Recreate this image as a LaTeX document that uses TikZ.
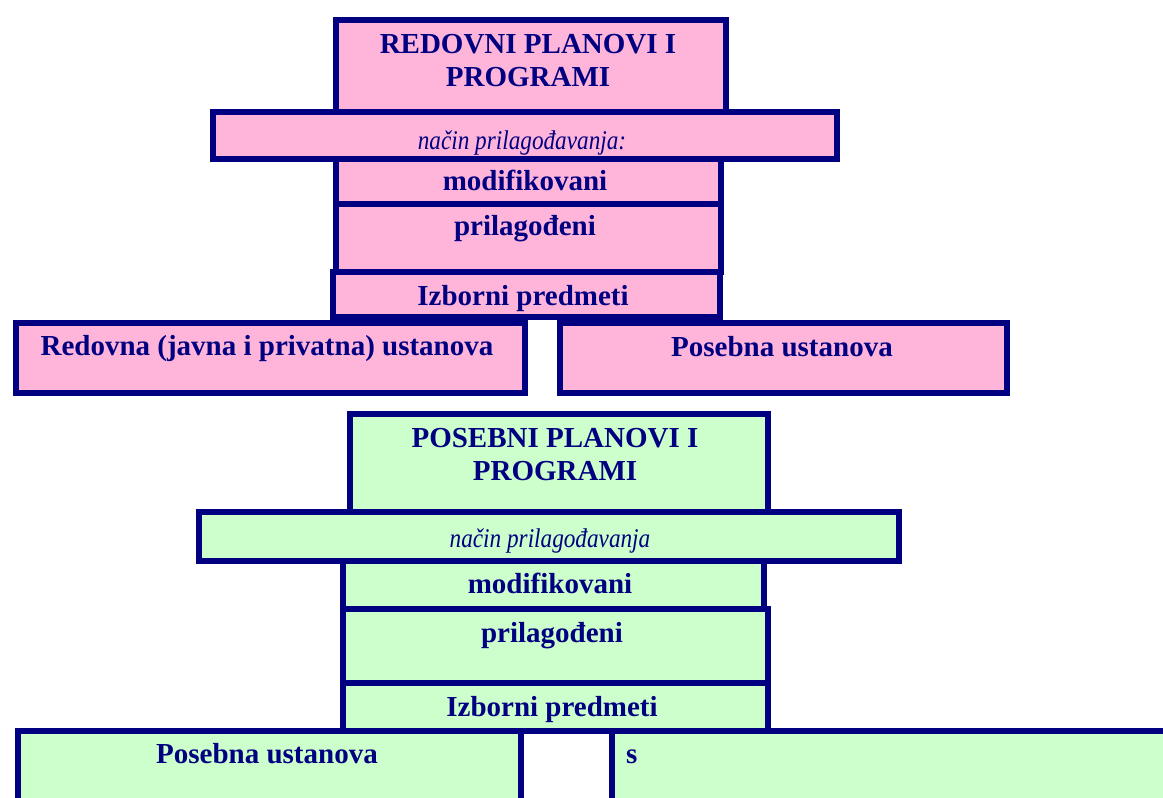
\documentclass[tikz,border=0pt]{standalone}
\usepackage{fontspec}
\setmainfont{Liberation Serif}
\newfontfamily\narrowit[FakeStretch=0.86]{Liberation Serif}
\usetikzlibrary{positioning}
\definecolor{navy}{RGB}{0,0,128}
\definecolor{pinkfill}{RGB}{255,180,218}
\definecolor{greenfill}{RGB}{204,255,204}
\tikzset{
  box/.style={draw=navy, line width=6pt, rectangle, inner sep=0pt, anchor=north west},
  pinkbox/.style={box, fill=pinkfill},
  greenbox/.style={box, fill=greenfill},
  txt/.style={text=navy, font=\fontsize{29}{33}\selectfont\bfseries, anchor=base, inner sep=0pt},
  itxt/.style={text=navy, font=\narrowit\fontsize{27}{30}\selectfont\itshape, anchor=base, inner sep=0pt}
}
\begin{document}
\begin{tikzpicture}[x=1pt,y=-1pt]
	\useasboundingbox (0,0) rectangle (1163,798);
	\clip (0,0) rectangle (1163,798);
	\node[pinkbox, minimum width=390pt, minimum height=92pt] (rTop) at (333,17) {};
	\node[txt] (rTopA) at (528,53) {REDOVNI PLANOVI I};
	\node[txt] (rTopB) at (528,86) {PROGRAMI};
	\node[pinkbox, minimum width=624pt, minimum height=47pt] (rNacin) at (210,109) {};
	\node[itxt] (rNacinT) at (522,149) {način prilagođavanja:};
	\node[pinkbox, minimum width=385pt, minimum height=45pt] (rMod) at (333,156) {};
	\node[txt] (rModT) at (525,190) {modifikovani};
	\node[pinkbox, minimum width=385pt, minimum height=68pt] (rPril) at (333,201) {};
	\node[txt] (rPrilT) at (525,235) {prilagođeni};
	\node[pinkbox, minimum width=387pt, minimum height=45pt] (rIzb) at (330,269) {};
	\node[txt] (rIzbT) at (523,305) {Izborni predmeti};
	\node[pinkbox, minimum width=509pt, minimum height=70pt] (rRed) at (13,320) {};
	\node[txt] (rRedT) at (267,355) {Redovna (javna i privatna) ustanova};
	\node[pinkbox, minimum width=447pt, minimum height=70pt] (rPos) at (557,320) {};
	\node[txt] (rPosT) at (782,356) {Posebna ustanova};

	\node[greenbox, minimum width=418pt, minimum height=98pt] (gTop) at (347,411) {};
	\node[txt] (gTopA) at (555,447) {POSEBNI PLANOVI I};
	\node[txt] (gTopB) at (555,480) {PROGRAMI};
	\node[greenbox, minimum width=700pt, minimum height=49pt] (gNacin) at (196,509) {};
	\node[itxt] (gNacinT) at (550,547) {način prilagođavanja};
	\node[greenbox, minimum width=421pt, minimum height=48pt] (gMod) at (340,558) {};
	\node[txt] (gModT) at (550,593) {modifikovani};
	\node[greenbox, minimum width=425pt, minimum height=74pt] (gPril) at (340,606) {};
	\node[txt] (gPrilT) at (552,642) {prilagođeni};
	\node[greenbox, minimum width=425pt, minimum height=48pt] (gIzb) at (340,680) {};
	\node[txt] (gIzbT) at (552,716) {Izborni predmeti};
	\node[greenbox, minimum width=503pt, minimum height=100pt] (gLeft) at (15,728) {};
	\node[txt] (gLeftT) at (267,763) {Posebna ustanova};
	\node[greenbox, minimum width=600pt, minimum height=100pt] (gRight) at (609,728) {};
	\node[txt, anchor=base west] (gRightT) at (626,763) {s};
\end{tikzpicture}
\end{document}
